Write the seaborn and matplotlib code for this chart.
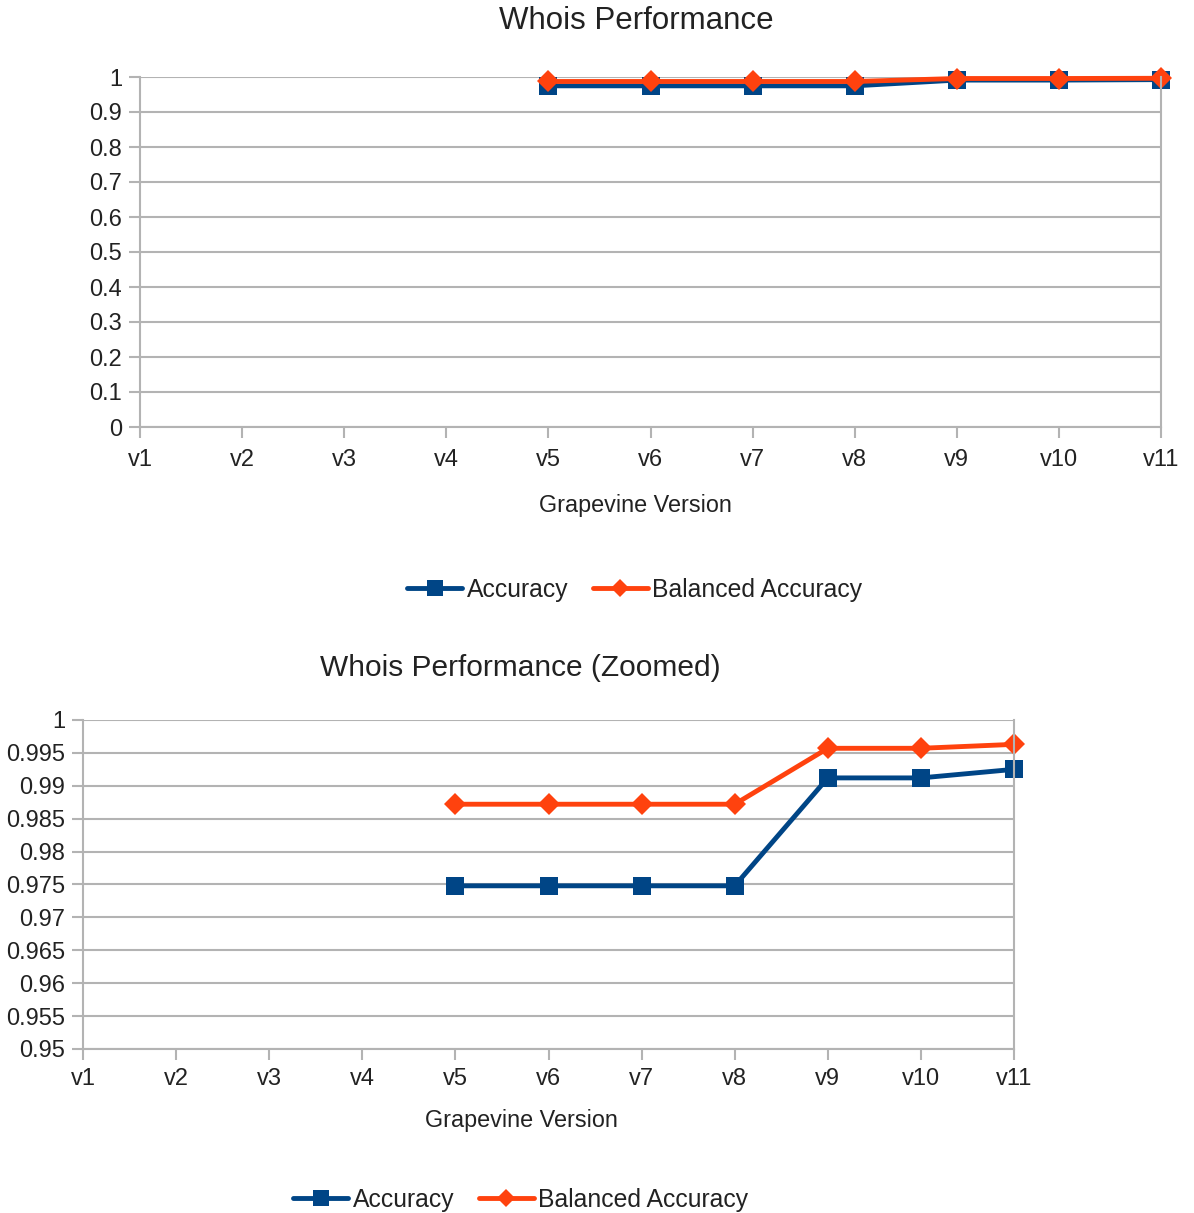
import numpy as np
import pandas as pd
import matplotlib
matplotlib.use("Agg")
import matplotlib.pyplot as plt
from matplotlib.ticker import FuncFormatter, MultipleLocator
import seaborn as sns

versions = ["v1", "v2", "v3", "v4", "v5", "v6", "v7", "v8", "v9", "v10", "v11"]
accuracy = [np.nan, np.nan, np.nan, np.nan, 0.9748, 0.9748, 0.9748, 0.9748, 0.9912, 0.9912, 0.9925]
balanced_accuracy = [np.nan, np.nan, np.nan, np.nan, 0.9872, 0.9872, 0.9872, 0.9872, 0.9957, 0.9957, 0.9963]
series_names = ["Accuracy", "Balanced Accuracy"]

BLUE = "#004586"
ORANGE = "#ff420e"
GRID = "#b3b3b3"
TEXT = "#222222"

sns.set_theme(style="white")
plt.rcParams["font.family"] = ["Liberation Sans", "DejaVu Sans"]

df = pd.DataFrame({
    "pos": list(range(len(versions))) * 2,
    "value": accuracy + balanced_accuracy,
    "series": [series_names[0]] * len(versions) + [series_names[1]] * len(versions),
})

W, H = 1194, 1213
fig = plt.figure(figsize=(W / 100, H / 100), dpi=100)


def make_axes(left, top, right, bottom):
    return fig.add_axes([left / W, 1 - bottom / H, (right - left) / W, (bottom - top) / H])


def draw_panel(ax, ylim, step, title, title_size, title_xy, xlabel_xy, legend_xy, xpad):
    sns.lineplot(
        data=df, x="pos", y="value", hue="series", style="series",
        palette={series_names[0]: BLUE, series_names[1]: ORANGE},
        markers={series_names[0]: "s", series_names[1]: "D"},
        dashes=False, markersize=13.5, linewidth=3.5, markeredgewidth=0,
        ax=ax, legend=False,
    )
    # the diamond markers are a touch smaller than the squares
    for line in ax.get_lines():
        line.set_clip_on(False)
        if line.get_marker() == "D":
            line.set_markersize(11)
    ax.set_xlim(0, len(versions) - 1)
    ax.set_ylim(*ylim)
    ax.yaxis.set_major_locator(MultipleLocator(step))
    ax.yaxis.set_major_formatter(FuncFormatter(lambda v, p: f"{round(v, 4):g}"))
    ax.set_xticks(range(len(versions)))
    ax.set_xticklabels(versions)
    ax.grid(axis="y", color=GRID, linewidth=1.5)
    ax.set_axisbelow(True)
    for side in ["left", "right", "bottom"]:
        ax.spines[side].set_visible(True)
        ax.spines[side].set_color(GRID)
        ax.spines[side].set_linewidth(1.5)
    ax.spines["top"].set_visible(False)
    ax.tick_params(axis="both", colors=GRID, length=8, width=1.5, direction="out",
                   labelsize=17, labelcolor=TEXT, pad=5)
    ax.tick_params(axis="y", left=True, right=False)
    ax.tick_params(axis="x", bottom=True, top=False, pad=xpad)
    ax.set_xlabel("")
    ax.set_ylabel("")

    fig.text(title_xy[0] / W, 1 - title_xy[1] / H, title, ha="center", va="center",
             fontsize=title_size, color=TEXT)
    fig.text(xlabel_xy[0] / W, 1 - xlabel_xy[1] / H, "Grapevine Version", ha="center",
             va="center", fontsize=16.8, color=TEXT)

    handles = [
        plt.Line2D([], [], color=BLUE, marker="s", markersize=12, linewidth=3.5, markeredgewidth=0),
        plt.Line2D([], [], color=ORANGE, marker="D", markersize=9, linewidth=3.5, markeredgewidth=0),
    ]
    fig.legend(handles, series_names, loc="center",
               bbox_to_anchor=(legend_xy[0] / W, 1 - legend_xy[1] / H),
               ncol=2, frameon=False, fontsize=17.8, handlelength=2.2,
               handletextpad=0.2, columnspacing=1.0, labelcolor=TEXT)


ax1 = make_axes(140, 77, 1161, 427)
draw_panel(ax1, (0, 1), 0.1, "Whois Performance", 22.5, (636, 21), (635, 505), (635, 590), 8)

ax2 = make_axes(83, 720, 1014, 1049)
draw_panel(ax2, (0.95, 1), 0.005, "Whois Performance (Zoomed)", 21.5, (520, 668), (521, 1121), (521, 1200), 6)

fig.savefig("out.png", dpi=100, facecolor="white")
